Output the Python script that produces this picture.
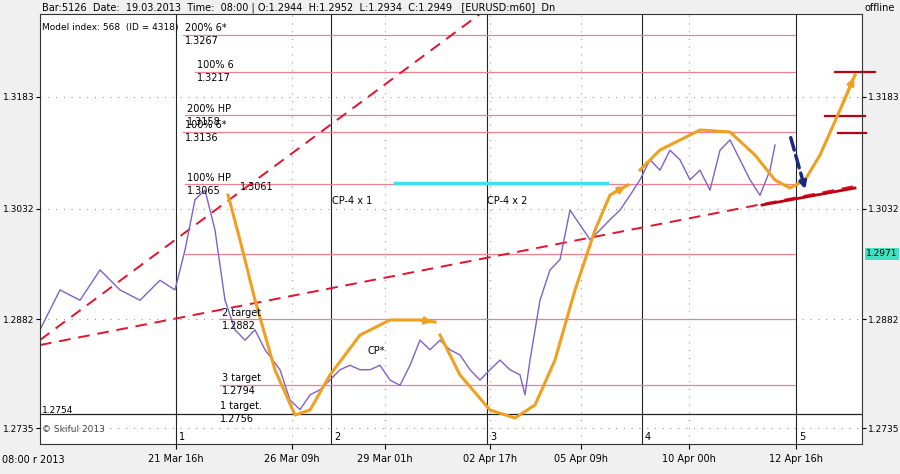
import numpy as np, pandas as pd, seaborn as sns, matplotlib
matplotlib.use("Agg")
import matplotlib.pyplot as plt

# ---- data ----
bar_x = [0,20,40,60,80,100,120,135,145,155,165,175,185,195,205,215,225,240,250,260,270,280,290,300,310,320,330,340,350,360,370,380,390,400,410,420,430,440,450,460,470,480,485,490,500,510,520,530,540,550,560,570,580,590,600,610,620,630,640,650,660,670,680,690,700,710,720,730,735]
close = [1.2868,1.2922,1.2908,1.2949,1.2922,1.2908,1.2935,1.2922,1.2976,1.3044,1.3057,1.3003,1.2908,1.2868,1.2854,1.2868,1.2841,1.2814,1.2773,1.2760,1.2780,1.2787,1.2800,1.2814,1.2820,1.2814,1.2814,1.2820,1.2800,1.2793,1.2820,1.2854,1.2841,1.2854,1.2841,1.2834,1.2814,1.2800,1.2814,1.2827,1.2814,1.2807,1.2780,1.2827,1.2908,1.2949,1.2963,1.3030,1.3010,1.2990,1.3003,1.3017,1.3030,1.3050,1.3071,1.3098,1.3084,1.3111,1.3098,1.3071,1.3084,1.3057,1.3111,1.3125,1.3098,1.3071,1.3050,1.3084,1.3118]
tick_pos = [136,252,345,450,541,649,756]
tick_labels = ["21 Mar 16h","26 Mar 09h","29 Mar 01h","02 Apr 17h","05 Apr 09h","10 Apr 00h","12 Apr 16h"]
yticks = [1.3183,1.3032,1.2882,1.2735]
levels = [1.3267,1.3217,1.3158,1.3136,1.3065,1.2971,1.2882,1.2794]
level_names = ["200% 6*","100% 6","200% HP","100% 6*","100% HP","","2 target","3 target"]
level_start = [143,155,145,143,145,145,180,180]
vlines = [136,291,447,602,756]

def P(y): return 1.3183-(y-97)*0.0001353
def X(x): return x-40

fig = plt.figure(figsize=(9,4.74), dpi=100, facecolor="#f0f0f0")
ax = fig.add_axes([40/900, 30/474, 822/900, 430/474])
ax.set_facecolor("white")
ax.set_xlim(0,822); ax.set_ylim(P(444),P(14))

for v in yticks:
    ax.axhline(v, color="#999", lw=0.8, ls=(0,(1,6)))
for t in tick_pos:
    ax.axvline(t, color="#999", lw=0.8, ls=(0,(1,6)))
for i,v in enumerate(vlines):
    ax.axvline(v, color="#222", lw=0.8)
    ax.text(v+3, P(442), str(i+1), fontsize=7, va="bottom")
ax.axhline(1.2754, color="#222", lw=0.9)
ax.text(2, 1.2754+0.0001, "1.2754", fontsize=6.5)
for v,n,s in zip(levels,level_names,level_start):
    ax.plot([s,755],[v,v], color="#f08090", lw=0.9)
    if n:
        ax.text(s+2, v+0.0002, n, fontsize=7, va="bottom")
        ax.text(s+2, v-0.0002, f"{v:.4f}", fontsize=7, va="top")
ax.text(180, 1.2756+0.0002, "1 target.", fontsize=7, va="bottom")
ax.text(180, 1.2756-0.0002, "1.2756", fontsize=7, va="top")
ax.text(200, 1.3061, "1.3061", fontsize=7, va="center")
ax.text(292, 1.3038, "CP-4 x 1", fontsize=7)
ax.text(447, 1.3038, "CP-4 x 2", fontsize=7)
ax.text(328, 1.2835, "CP*", fontsize=7)

# trend lines
ax.plot([X(40),X(480)],[P(340),P(14)], color="#e8102a", lw=1.4, ls=(0,(6,4)))
ax.plot([X(40),X(860)],[P(345),P(185)], color="#e8102a", lw=1.4, ls=(0,(6,4)))
ax.plot([X(762),X(855)],[P(205),P(188)], color="#c00010", lw=2)
for a,b,y in [(835,875,72),(825,865,116),(838,866,133)]:
    ax.plot([X(a),X(b)],[P(y)]*2, color="#c00010", lw=1.6, clip_on=False)
ax.plot([X(395),X(607)],[P(183)]*2, color="#40e0e8", lw=2.5)

sns.lineplot(x=bar_x, y=close, ax=ax, color="#8060c8", lw=1.0)

oranges = [[(228,195),(240,240),(255,300),(275,370),(295,415),(310,410),(330,375),(360,335),(390,320),(420,320),(435,322)],
           [(440,335),(460,375),(490,410),(515,418),(535,405),(555,360),(575,290),(595,230),(610,195),(628,185)],
           [(640,170),(660,150),(700,130),(730,132),(755,155),(775,180),(790,188),(805,180),(820,155),(840,110),(855,75)]]
for o in oranges:
    xs=[X(a) for a,b in o]; ys=[P(b) for a,b in o]
    ax.plot(xs,ys,color="#f0a020",lw=2.2, clip_on=False)
    ax.annotate("",xy=(xs[-1],ys[-1]),xytext=(xs[-2],ys[-2]),arrowprops=dict(arrowstyle="-|>",color="#f0a020",lw=2))
ax.annotate("",xy=(X(806),P(192)),xytext=(X(790),P(135)),arrowprops=dict(arrowstyle="-|>",color="#1a2a80",lw=2.5,ls="--"))

ax.set_xticks(tick_pos); ax.set_xticklabels(tick_labels, fontsize=7)
ax.set_yticks(yticks); ax.set_yticklabels([f"{v:.4f}" for v in yticks], fontsize=6.5)
ax.tick_params(axis="y", labelleft=True, labelright=True, right=True, length=3, pad=1)
ax.text(-38, P(463), "08:00 r 2013", fontsize=7, transform=ax.transData, clip_on=False)
ax.text(2, P(30), "Model index: 568  (ID = 4318)", fontsize=6.5)
ax.text(2, P(432), "© Skiful 2013", fontsize=6.5, color="#444")
fig.text(42/900, 1-8/474, "Bar:5126  Date:  19.03.2013  Time:  08:00 | O:1.2944  H:1.2952  L:1.2934  C:1.2949   [EURUSD:m60]  Dn", fontsize=7, va="center")
fig.text(895/900, 1-8/474, "offline", fontsize=7, va="center", ha="right")
ax.text(826, 1.2971, "1.2971", fontsize=6.5, va="center", color="black", bbox=dict(fc="#40e0c0", ec="none", pad=1), clip_on=False)
for s in ax.spines.values(): s.set_color("#333")
fig.savefig("out.png", dpi=100, facecolor=fig.get_facecolor())
